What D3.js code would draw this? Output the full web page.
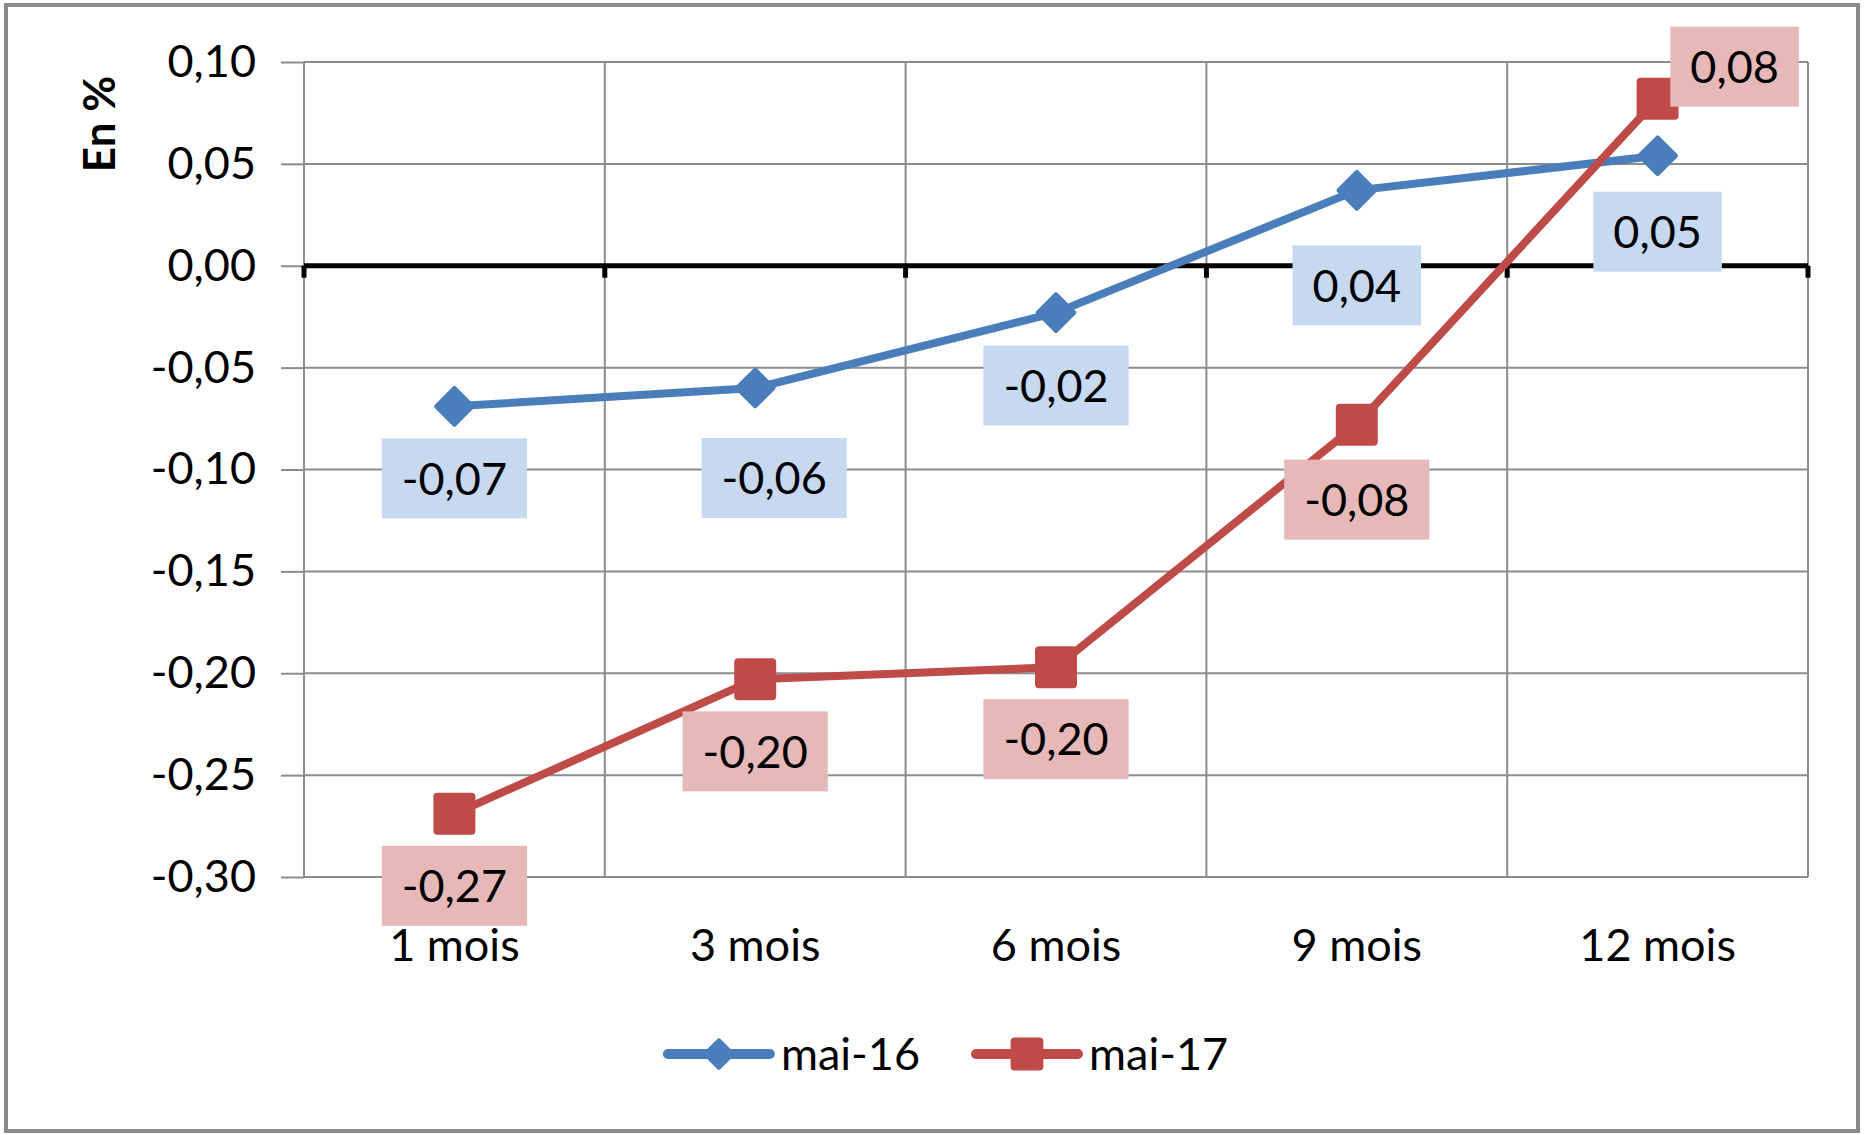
<!DOCTYPE html>
<html>
<head>
<meta charset="utf-8">
<script src="https://cdn.jsdelivr.net/npm/d3@7"></script>
<style>
body { margin: 0; background: #fff; }
svg { display: block; font-family: Lato, "Open Sans", sans-serif; }
</style>
</head>
<body>
<div id="chart"></div>
<script>
const categories = ["1 mois", "3 mois", "6 mois", "9 mois", "12 mois"];
const seriesNames = ["mai-16", "mai-17"];
const mai16 = [-0.069, -0.060, -0.023, 0.037, 0.054];
const mai17 = [-0.269, -0.203, -0.197, -0.078, 0.082];
const yTicks = [0.10, 0.05, 0.00, -0.05, -0.10, -0.15, -0.20, -0.25, -0.30];
const yTitle = "En %";

const width = 1864;
const height = 1135;
const margin = { top: 62, right: 56, bottom: 258, left: 304 };
const fontSize = 45;

const colors = { "mai-16": "#4a7ebb", "mai-17": "#be4b48" };
const boxFill = { "mai-16": "#c6d9f1", "mai-17": "#e6b9b8" };

// label placement relative to the point (dx, dy of the box centre)
const labelShift = {
    "mai-16": [[0, 72], [19, 90], [0, 73], [0, 95], [0, 76]],
    "mai-17": [[0, 72], [0, 72], [0, 72], [0, 75], [77, -32]]
};

const locale = d3.formatLocale({ decimal: ",", thousands: " ", grouping: [3], currency: ["", " €"], minus: "-" });
const fmt = locale.format(".2f");

const series = [
    { name: seriesNames[0], values: mai16, marker: "diamond" },
    { name: seriesNames[1], values: mai17, marker: "square" }
];

const svg = d3.select("#chart").append("svg")
    .attr("width", width)
    .attr("height", height);

// outer frame
svg.append("rect")
    .attr("x", 6).attr("y", 5)
    .attr("width", width - 12).attr("height", height - 9)
    .attr("fill", "#fff")
    .attr("stroke", "#8a8a8a")
    .attr("stroke-width", 4);

const x = d3.scaleBand()
    .domain(categories)
    .range([margin.left, width - margin.right])
    .padding(0);

const y = d3.scaleLinear()
    .domain([-0.30, 0.10])
    .range([height - margin.bottom, margin.top]);

const cx = d => x(d) + x.bandwidth() / 2;

// horizontal gridlines
svg.append("g")
    .selectAll("line")
    .data(yTicks)
    .join("line")
    .attr("x1", margin.left).attr("x2", width - margin.right)
    .attr("y1", d => y(d)).attr("y2", d => y(d))
    .attr("stroke", "#8c8c8c")
    .attr("stroke-width", 2);

// vertical gridlines at category boundaries
const bounds = categories.map(c => x(c)).concat([x.range()[1]]);
svg.append("g")
    .selectAll("line")
    .data(bounds)
    .join("line")
    .attr("x1", d => d).attr("x2", d => d)
    .attr("y1", margin.top).attr("y2", height - margin.bottom)
    .attr("stroke", "#8c8c8c")
    .attr("stroke-width", 2);

// y axis
const yAxis = svg.append("g")
    .attr("transform", `translate(${margin.left},0)`)
    .call(d3.axisLeft(y).tickValues(yTicks).tickFormat(fmt).tickSizeInner(23).tickSizeOuter(0).tickPadding(25));
yAxis.select(".domain").remove();
yAxis.selectAll(".tick line").attr("stroke", "#8c8c8c").attr("stroke-width", 2);
yAxis.selectAll(".tick text")
    .attr("font-size", fontSize)
    .attr("font-family", "Lato, 'Open Sans', sans-serif")
    .attr("fill", "#000");

// x axis labels
const xAxis = svg.append("g")
    .attr("transform", `translate(0,${height - margin.bottom})`)
    .call(d3.axisBottom(x).tickSize(0).tickPadding(52));
xAxis.select(".domain").remove();
xAxis.selectAll(".tick text")
    .attr("font-size", fontSize)
    .attr("font-family", "Lato, 'Open Sans', sans-serif")
    .attr("fill", "#000");

// zero line with small ticks
svg.append("line")
    .attr("x1", margin.left).attr("x2", width - margin.right)
    .attr("y1", y(0)).attr("y2", y(0))
    .attr("stroke", "#000")
    .attr("stroke-width", 5);
svg.append("g")
    .selectAll("line")
    .data(bounds)
    .join("line")
    .attr("x1", d => d).attr("x2", d => d)
    .attr("y1", y(0)).attr("y2", y(0) + 12)
    .attr("stroke", "#000")
    .attr("stroke-width", 5);

// y title
svg.append("text")
    .attr("transform", `translate(115,124) rotate(-90)`)
    .attr("text-anchor", "middle")
    .attr("font-size", 44)
    .attr("font-weight", "bold")
    .text(yTitle);

const line = d3.line()
    .x((d, i) => cx(categories[i]))
    .y(d => y(d));

function drawMarker(g, type, color, px, py, scale) {
    if (type === "diamond") {
        const s = 30 * scale;
        g.append("rect")
            .attr("x", -s / 2).attr("y", -s / 2)
            .attr("width", s).attr("height", s)
            .attr("rx", 2)
            .attr("transform", `translate(${px},${py}) rotate(45)`)
            .attr("fill", color);
    } else {
        const s = 42 * scale;
        g.append("rect")
            .attr("x", px - s / 2).attr("y", py - s / 2)
            .attr("width", s).attr("height", s)
            .attr("rx", 4)
            .attr("fill", color);
    }
}

series.forEach(s => {
    svg.append("path")
        .datum(s.values)
        .attr("fill", "none")
        .attr("stroke", colors[s.name])
        .attr("stroke-width", 8)
        .attr("stroke-linejoin", "round")
        .attr("d", line);
    const g = svg.append("g");
    s.values.forEach((v, i) => drawMarker(g, s.marker, colors[s.name], cx(categories[i]), y(v), 1));
});

// data labels
series.forEach(s => {
    s.values.forEach((v, i) => {
        const [dx, dy] = labelShift[s.name][i];
        const lx = cx(categories[i]) + dx;
        const ly = y(v) + dy;
        const g = svg.append("g");
        const box = g.append("rect").attr("fill", boxFill[s.name]);
        const t = g.append("text")
            .attr("x", lx).attr("y", ly)
            .attr("dy", "0.36em")
            .attr("text-anchor", "middle")
            .attr("font-size", fontSize)
            .attr("fill", "#000")
            .text(fmt(v));
        const w = t.node().getComputedTextLength() + 40;
        box.attr("x", lx - w / 2).attr("y", ly - 40)
            .attr("width", w).attr("height", 80);
    });
});

// legend
const legend = svg.append("g");
let lxPos = 0;
const legendY = 1054;
series.forEach((s, k) => {
    const item = legend.append("g").attr("transform", `translate(${lxPos},0)`);
    item.append("line")
        .attr("x1", 4).attr("x2", 106)
        .attr("y1", legendY).attr("y2", legendY)
        .attr("stroke", colors[s.name])
        .attr("stroke-width", 10)
        .attr("stroke-linecap", "round");
    drawMarker(item, s.marker, colors[s.name], 55, legendY, 0.78);
    const t = item.append("text")
        .attr("x", 117).attr("y", legendY)
        .attr("dy", "0.36em")
        .attr("font-size", fontSize)
        .text(s.name);
    lxPos += 117 + t.node().getComputedTextLength() + 52;
});
const lw = legend.node().getBBox().width;
legend.attr("transform", `translate(${width / 2 - lw / 2 + 12},0)`);
</script>
</body>
</html>
